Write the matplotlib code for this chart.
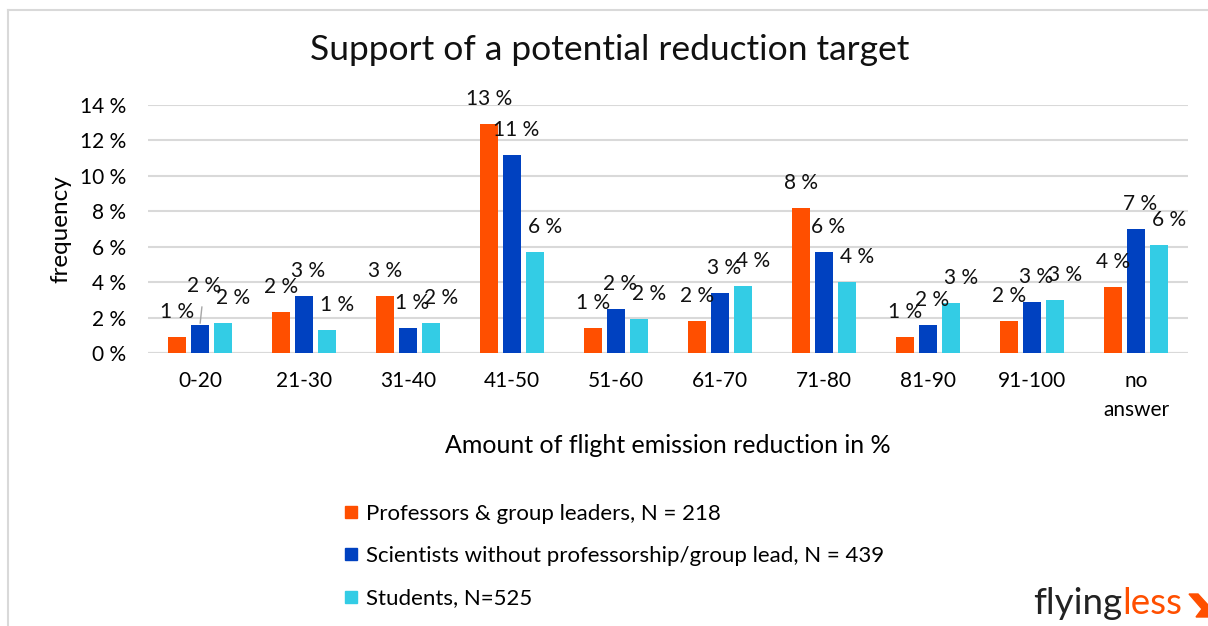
import matplotlib
matplotlib.use("Agg")
import matplotlib.pyplot as plt
import numpy as np
from matplotlib.lines import Line2D
from matplotlib.patches import Polygon

plt.rcParams['font.family'] = ['Lato', 'DejaVu Sans']

categories = ["0-20", "21-30", "31-40", "41-50", "51-60", "61-70", "71-80", "81-90", "91-100", "no\nanswer"]
professors = [0.9, 2.3, 3.2, 12.9, 1.4, 1.8, 8.2, 0.9, 1.8, 3.7]
scientists = [1.6, 3.2, 1.4, 11.2, 2.5, 3.4, 5.7, 1.6, 2.9, 7.0]
students = [1.7, 1.3, 1.7, 5.7, 1.9, 3.8, 4.0, 2.8, 3.0, 6.1]
series_names = ["Professors & group leaders, N = 218",
                "Scientists without professorship/group lead, N = 439",
                "Students, N=525"]
yticks = [0, 2, 4, 6, 8, 10, 12, 14]

colors = ["#FF4F00", "#0041C0", "#33CCE5"]

fig = plt.figure(figsize=(12.08, 6.26), dpi=100)
W, H = 1208, 626
ax = fig.add_axes([148 / W, 1 - 353 / H, (1188 - 148) / W, (353 - 105) / H])

x = np.arange(len(categories))
offs = [-0.22, 0.0, 0.22]
label_dx = [0, 3, 7]
width = 0.18
all_series = [professors, scientists, students]
for s, (vals, c, name) in enumerate(zip(all_series, colors, series_names)):
    ax.bar(x + offs[s], vals, width=width, color=c, label=name, zorder=3)
    for i, (xi, v) in enumerate(zip(x + offs[s], vals)):
        dy = 18
        arrow = None
        if s == 1 and i == 0:
            # raised label with leader line, as in the reference
            dy = 28
            arrow = dict(arrowstyle="-", color="#A6A6A6", lw=1, shrinkA=6, shrinkB=1)
        ax.annotate(f"{round(v):d} %", (xi, v), xytext=(label_dx[s], dy), textcoords="offset points",
                    ha="center", va="center", fontsize=15, color="#111111", zorder=4,
                    arrowprops=arrow)

ax.set_xlim(-0.5, len(categories) - 0.5)
ax.set_ylim(0, 14)
ax.set_yticks(yticks)
ax.set_yticklabels([f"{t} %" for t in yticks], fontsize=15)
ax.set_xticks(x)
ax.set_xticklabels(categories, fontsize=15, linespacing=1.55)
ax.tick_params(axis='y', length=0, pad=16)
ax.tick_params(axis='x', length=0, pad=13)
ax.yaxis.grid(True, color="#D9D9D9", linewidth=1.5, zorder=0)
for sp in ax.spines.values():
    sp.set_visible(False)
ax.axhline(0, color="#D9D9D9", linewidth=1.5, zorder=2)

ax.set_ylabel("frequency", fontsize=17.5, labelpad=6)
ax.set_xlabel("Amount of flight emission reduction in %", fontsize=18, labelpad=10)

fig.text(0.505, 1 - 50 / H, "Support of a potential reduction target", ha="center", va="center",
         fontsize=25.5, color="#111111")

handles = [Line2D([], [], marker="s", linestyle="none", markersize=8, color=c) for c in colors]
leg = fig.legend(handles, series_names, loc="upper left", bbox_to_anchor=(335 / W, 1 - 495 / H),
                 frameon=False, fontsize=16, labelspacing=1.0, handlelength=0.6,
                 handletextpad=0.4, borderaxespad=0)

# frame lines
fig.add_artist(Line2D([8 / W, 8 / W], [0, 1 - 10 / H], color="#D9D9D9", linewidth=1.5))
fig.add_artist(Line2D([8 / W, 1], [1 - 10 / H, 1 - 10 / H], color="#D9D9D9", linewidth=1.5))

# logo
t1 = fig.text(1033 / W, 1 - 604 / H, "flying", ha="left", va="center", fontsize=26.5, color="#222222")
fig.canvas.draw()
bb = t1.get_window_extent()
fig.text(bb.x1 / W, 1 - 604 / H, "less", ha="left", va="center", fontsize=26.5, color="#FF4F00")
fig.add_artist(Polygon([[1189 / W, 1 - 594 / H], [1198 / W, 1 - 594 / H], [1208 / W, 1 - 605 / H],
                        [1208 / W, 1 - 617 / H], [1196 / W, 1 - 617 / H], [1202 / W, 1 - 609 / H]],
                       closed=True, transform=fig.transFigure, color="#FF4F00"))

fig.savefig("out.png", dpi=100)
